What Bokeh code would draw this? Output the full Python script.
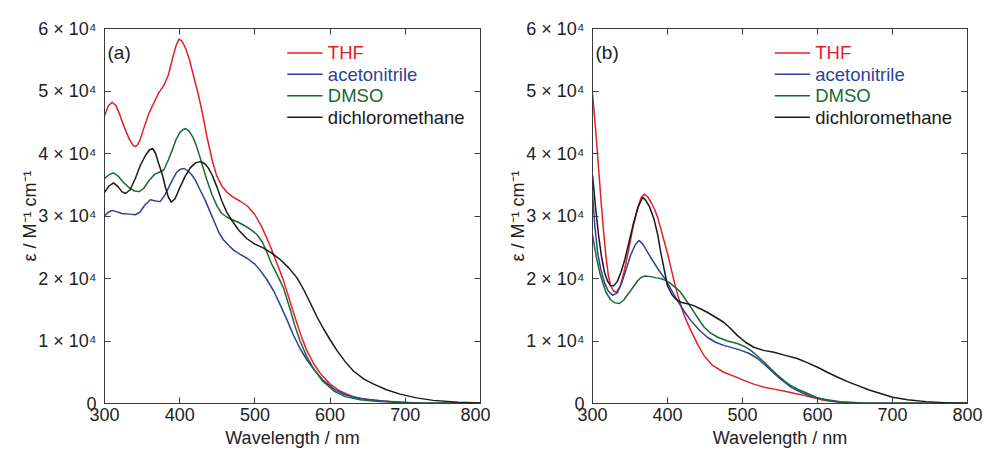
from bokeh.plotting import figure
from bokeh.layouts import row
from bokeh.models import Range1d, FixedTicker, LinearAxis, CustomJSTickFormatter, ColumnDataSource
from bokeh.core.properties import value
from bokeh.embed import file_html
from bokeh.resources import INLINE

# ---------------- data (epsilon in units of 10^4 M^-1 cm^-1) ----------------
solvents = ["THF", "acetonitrile", "DMSO", "dichloromethane"]
colors = ["#e3202a", "#2e3f9c", "#176a32", "#1a1a1a"]

# panel (a)
a_thf_wl = [300, 305, 310, 315, 320, 326, 333, 338, 341, 344, 347, 353, 359, 366, 372, 379, 385, 390,
            395, 399, 403, 408, 413, 418, 424, 430, 436, 443, 449, 456, 463, 470, 480, 490, 500, 509,
            515, 521, 530, 538, 547, 556, 563, 569, 578, 587, 600, 613, 630, 650, 680, 720, 760, 800]
a_thf_eps = [4.60, 4.76, 4.82, 4.77, 4.63, 4.43, 4.23, 4.13, 4.11, 4.14, 4.21, 4.43, 4.64, 4.82, 4.97,
             5.09, 5.26, 5.50, 5.72, 5.83, 5.80, 5.68, 5.50, 5.26, 4.98, 4.66, 4.28, 3.90, 3.65, 3.48,
             3.38, 3.31, 3.24, 3.16, 3.02, 2.83, 2.67, 2.50, 2.22, 1.97, 1.62, 1.28, 1.03, 0.85, 0.64,
             0.48, 0.31, 0.20, 0.11, 0.06, 0.03, 0.01, 0.005, 0.0]

a_acn_wl = [300, 305, 310, 316, 323, 333, 341, 347, 354, 361, 368, 374, 380, 386, 390, 396, 401, 406,
            411, 416, 421, 427, 434, 441, 447, 452, 458, 466, 472, 480, 490, 500, 507, 516, 525, 534,
            543, 551, 560, 569, 578, 590, 605, 620, 640, 670, 710, 800]
a_acn_eps = [3.00, 3.06, 3.09, 3.07, 3.04, 3.03, 3.02, 3.06, 3.18, 3.26, 3.24, 3.23, 3.33, 3.47, 3.57,
             3.70, 3.75, 3.76, 3.72, 3.66, 3.57, 3.42, 3.25, 3.05, 2.88, 2.74, 2.62, 2.52, 2.45, 2.39,
             2.32, 2.23, 2.13, 1.98, 1.80, 1.57, 1.33, 1.10, 0.88, 0.70, 0.55, 0.38, 0.23, 0.14, 0.08,
             0.04, 0.01, 0.0]

a_dmso_wl = [300, 306, 312, 318, 325, 333, 340, 346, 352, 360, 367, 373, 379, 385, 390, 395, 400, 404,
             408, 413, 418, 422, 426, 430, 436, 443, 450, 456, 463, 470, 478, 487, 496, 503, 510, 516,
             522, 530, 538, 547, 553, 560, 569, 578, 590, 605, 620, 640, 665, 700, 800]
a_dmso_eps = [3.60, 3.66, 3.69, 3.64, 3.54, 3.45, 3.40, 3.39, 3.44, 3.58, 3.67, 3.70, 3.74, 3.90, 4.05,
              4.22, 4.33, 4.38, 4.40, 4.35, 4.25, 4.13, 3.98, 3.82, 3.58, 3.34, 3.15, 3.04, 2.98, 2.94,
              2.90, 2.84, 2.77, 2.70, 2.58, 2.42, 2.24, 2.05, 1.85, 1.50, 1.25, 1.00, 0.75, 0.56, 0.36,
              0.20, 0.11, 0.06, 0.03, 0.01, 0.0]

a_dcm_wl = [300, 306, 312, 318, 323, 328, 334, 341, 348, 355, 360, 364, 368, 372, 377, 381, 385, 389,
            394, 400, 407, 414, 421, 427, 433, 438, 443, 450, 456, 463, 470, 478, 489, 500, 511, 522,
            534, 545, 556, 565, 574, 582, 591, 600, 609, 620, 631, 645, 658, 675, 693, 715, 737, 770, 800]
a_dcm_eps = [3.38, 3.48, 3.53, 3.47, 3.39, 3.36, 3.42, 3.60, 3.82, 3.98, 4.06, 4.08, 4.00, 3.84, 3.66,
             3.46, 3.30, 3.22, 3.28, 3.45, 3.63, 3.77, 3.85, 3.87, 3.84, 3.77, 3.66, 3.45, 3.24, 3.05,
             2.92, 2.78, 2.64, 2.55, 2.49, 2.41, 2.30, 2.17, 2.01, 1.82, 1.60, 1.40, 1.20, 1.02, 0.85,
             0.67, 0.52, 0.39, 0.31, 0.22, 0.15, 0.09, 0.05, 0.02, 0.01]

# panel (b)
b_thf_wl = [300, 303, 306, 309, 312, 315, 318, 321, 324, 328, 332, 337, 342, 348, 354, 360, 365, 369,
            374, 379, 383, 387, 391, 395, 400, 405, 410, 414, 419, 425, 431, 440, 449, 460, 475, 490,
            502, 515, 529, 542, 555, 570, 582, 595, 608, 630, 660, 800]
b_thf_eps = [4.96, 4.55, 4.10, 3.62, 3.15, 2.72, 2.35, 2.06, 1.89, 1.80, 1.78, 1.88, 2.10, 2.45, 2.82,
             3.12, 3.30, 3.35, 3.30, 3.20, 3.10, 2.97, 2.80, 2.62, 2.40, 2.15, 1.90, 1.72, 1.52, 1.33,
             1.17, 0.95, 0.76, 0.61, 0.50, 0.43, 0.37, 0.31, 0.26, 0.23, 0.20, 0.16, 0.13, 0.09, 0.05,
             0.02, 0.01, 0.0]

b_acn_wl = [300, 303, 307, 311, 316, 321, 327, 333, 339, 345, 351, 357, 362, 367, 372, 380, 388, 398,
            405, 413, 422, 431, 442, 453, 464, 475, 487, 498, 509, 520, 529, 538, 547, 556, 566, 578,
            592, 609, 630, 660, 800]
b_acn_eps = [3.36, 2.85, 2.40, 2.15, 1.93, 1.80, 1.73, 1.77, 1.93, 2.15, 2.38, 2.54, 2.61, 2.55, 2.45,
             2.29, 2.14, 1.97, 1.82, 1.65, 1.48, 1.33, 1.18, 1.06, 0.98, 0.93, 0.89, 0.85, 0.80, 0.72,
             0.63, 0.53, 0.43, 0.34, 0.25, 0.18, 0.11, 0.07, 0.03, 0.01, 0.0]

b_dmso_wl = [300, 305, 310, 314, 318, 324, 330, 336, 342, 348, 354, 360, 365, 370, 378, 385, 391, 397,
             403, 409, 416, 422, 429, 436, 443, 449, 457, 467, 480, 493, 503, 511, 520, 529, 538, 547,
             556, 564, 575, 587, 600, 617, 640, 800]
b_dmso_eps = [2.70, 2.35, 2.08, 1.92, 1.78, 1.66, 1.61, 1.60, 1.66, 1.76, 1.86, 1.96, 2.02, 2.04, 2.03,
              2.01, 2.00, 1.97, 1.93, 1.87, 1.80, 1.70, 1.58, 1.45, 1.32, 1.22, 1.13, 1.06, 1.00, 0.96,
              0.91, 0.85, 0.76, 0.66, 0.55, 0.45, 0.36, 0.29, 0.22, 0.16, 0.09, 0.04, 0.01, 0.0]

b_dcm_wl = [300, 304, 308, 312, 316, 320, 324, 328, 333, 338, 343, 349, 355, 361, 367, 371, 376, 382,
            387, 391, 396, 400, 406, 411, 418, 425, 434, 443, 453, 464, 475, 484, 493, 504, 515, 528,
            542, 557, 573, 587, 600, 613, 627, 640, 653, 668, 684, 700, 720, 745, 775, 800]
b_dcm_eps = [3.65, 3.15, 2.70, 2.35, 2.10, 1.96, 1.89, 1.88, 1.95, 2.10, 2.30, 2.60, 2.90, 3.15, 3.30,
             3.25, 3.15, 2.95, 2.70, 2.42, 2.12, 1.88, 1.74, 1.67, 1.62, 1.60, 1.57, 1.52, 1.46, 1.38,
             1.30, 1.20, 1.09, 0.98, 0.90, 0.85, 0.82, 0.77, 0.72, 0.65, 0.58, 0.50, 0.42, 0.35, 0.29,
             0.22, 0.16, 0.10, 0.06, 0.03, 0.01, 0.01]

x_ticks = [300, 400, 500, 600, 700, 800]
y_ticks = [0, 1, 2, 3, 4, 5, 6]

panels = [
    ("(a)", [(a_thf_wl, a_thf_eps), (a_acn_wl, a_acn_eps), (a_dmso_wl, a_dmso_eps), (a_dcm_wl, a_dcm_eps)]),
    ("(b)", [(b_thf_wl, b_thf_eps), (b_acn_wl, b_acn_eps), (b_dmso_wl, b_dmso_eps), (b_dcm_wl, b_dcm_eps)]),
]

FONT = "Liberation Sans"
AXIS_COL = "#3a3a3a"
TEXT_COL = "#222222"


def make_panel(tag, series, min_left, min_right, frame_w):
    p = figure(frame_width=frame_w, frame_height=375, output_backend="svg", toolbar_location=None,
               x_range=Range1d(300, 800), y_range=Range1d(0, 6),
               min_border_left=min_left, min_border_right=min_right,
               min_border_top=28, min_border_bottom=50)
    p.grid.visible = False
    p.outline_line_color = AXIS_COL
    p.background_fill_color = "white"
    p.border_fill_color = "white"

    p.xaxis.ticker = FixedTicker(ticks=x_ticks)
    p.yaxis.ticker = FixedTicker(ticks=y_ticks)
    for ax in (p.xaxis[0], p.yaxis[0]):
        ax.axis_line_color = AXIS_COL
        ax.major_tick_line_color = AXIS_COL
        ax.major_tick_in = 6
        ax.major_tick_out = 0
        ax.minor_tick_line_color = None
        ax.major_label_text_font = FONT
        ax.major_label_text_color = TEXT_COL
        ax.axis_label_text_font = FONT
        ax.axis_label_text_font_style = "normal"
        ax.axis_label_text_color = TEXT_COL
    p.xaxis.major_label_text_font_size = "18px"
    p.xaxis.major_label_standoff = 4
    p.xaxis.axis_label = "Wavelength / nm"
    p.xaxis.axis_label_text_font_size = "18px"
    p.xaxis.axis_label_standoff = 4
    p.yaxis.major_label_text_font_size = "18px"
    p.yaxis.major_label_standoff = 8
    p.yaxis.formatter = CustomJSTickFormatter(
        code="return tick == 0 ? '0' : tick.toFixed(0) + ' \u00d7 10\u2074';")
    p.yaxis.axis_label = "\u03b5 / M\u207b\u00b9 cm\u207b\u00b9"
    p.yaxis.axis_label_text_font_size = "18px"
    p.yaxis.axis_label_standoff = -5

    # mirrored axes (ticks only)
    top = LinearAxis(ticker=FixedTicker(ticks=x_ticks))
    right = LinearAxis(ticker=FixedTicker(ticks=y_ticks))
    for ax in (top, right):
        ax.axis_line_color = AXIS_COL
        ax.major_tick_line_color = AXIS_COL
        ax.major_tick_in = 6
        ax.major_tick_out = 0
        ax.minor_tick_line_color = None
        ax.major_label_text_font_size = "0px"
        ax.major_label_standoff = 0
        ax.formatter = CustomJSTickFormatter(code="return '';")
    p.add_layout(top, "above")
    p.add_layout(right, "right")

    for (wl, eps), col in zip(series, colors):
        p.line(wl, eps, line_color=col, line_width=1.5)

    # panel tag
    p.text(x=[304], y=[5.61], text=[tag], text_font=value(FONT), text_font_size="19px",
           text_color=TEXT_COL, text_align="left", text_baseline="middle")

    # legend with coloured labels
    ys = [5.61 - 0.343 * i for i in range(len(solvents))]
    src = ColumnDataSource(dict(x0=[543] * 4, x1=[590] * 4, xt=[597] * 4, y=ys,
                                label=solvents, color=colors))
    p.segment(x0="x0", y0="y", x1="x1", y1="y", line_color="color", line_width=1.5, source=src)
    p.text(x="xt", y="y", text="label", text_color="color", text_font=value(FONT),
           text_font_size="18.5px", text_align="left", text_baseline="middle", source=src)
    return p


p1 = make_panel(panels[0][0], panels[0][1], 104, 10, 376)
p2 = make_panel(panels[1][0], panels[1][1], 102, 17, 375)
layout = row(p1, p2)

open("out.html", "w").write(file_html(layout, INLINE))
